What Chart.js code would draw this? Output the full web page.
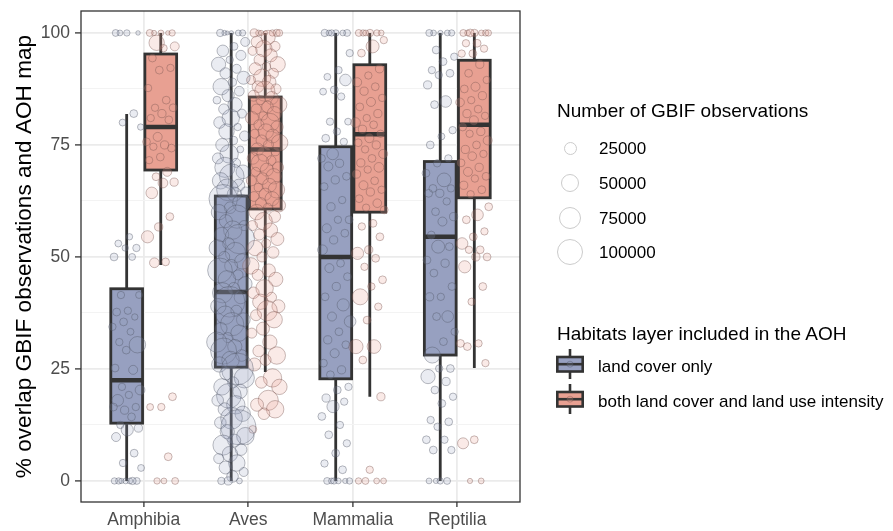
<!DOCTYPE html>
<html>
<head>
<meta charset="utf-8">
<script src="https://cdn.jsdelivr.net/npm/chart.js@4.4.1/dist/chart.umd.min.js"></script>
<style>
  html, body { margin: 0; padding: 0; background: #fff; }
  #wrap { position: relative; width: 893px; height: 531px; font-family: 'Liberation Sans', Arial, sans-serif; }
  #chart { position: absolute; left: 0; top: 0; }
  .lg { position: absolute; white-space: nowrap; color: #000; line-height: 1; transform: translateY(-50%); }
  .lg-title { font-size: 19px; }
  .lg-text { font-size: 17px; }
  .dot { position: absolute; border-radius: 50%; border: 1.3px solid #cbcbcb; box-sizing: border-box; background: #fff; }
  .key { position: absolute; }
</style>
</head>
<body>
<div id="wrap">
  <canvas id="chart" width="893" height="531"></canvas>
  <div id="legend"></div>
</div>
<script>
const categories = ['Amphibia', 'Aves', 'Mammalia', 'Reptilia'];
const seriesLabels = ['land cover only', 'both land cover and land use intensity'];
const sizeBreaks = [25000, 50000, 75000, 100000];
const yMajor = [0, 25, 50, 75, 100];

// box summaries - land cover only
const coverLower  = [0, 0, 0, 0];
const coverQ1     = [12.9, 25.4, 22.8, 28.1];
const coverMedian = [22.5, 42.2, 50.0, 54.5];
const coverQ3     = [42.9, 63.6, 74.6, 71.3];
const coverUpper  = [81.9, 100, 100, 100];

// box summaries - land cover and land use intensity
const bothLower  = [48.2, 24.3, 18.8, 25.2];
const bothQ1     = [69.4, 60.7, 60.0, 63.2];
const bothMedian = [79.0, 74.0, 77.4, 79.5];
const bothQ3     = [95.3, 85.7, 92.9, 93.9];
const bothUpper  = [100, 100, 100, 100];

// species: [% overlap, number of GBIF observations]
const amphibiaCover = [
  [100,5000],[100,3000],[100,6000],[100,7000],[82,9000],[80,7000],[79,6000],
  [54.5,6000],[53,7000],[52,8000],[52,6000],[50,9000],[50,7000],
  [41.5,8000],[41.5,7000],[38,8000],[37.7,9000],[36.6,6000],[35.5,9000],[34.4,8000],[33.3,7000],
  [31,8000],[30.4,40000],[29.2,9000],[25.2,9000],[24.8,12000],[21,8000],[20.3,14000],[19.2,8000],
  [18,20000],[16.5,8000],[15.8,10000],[16.5,9000],[14.3,9000],[12.5,8000],[11.8,10000],[11.4,22000],
  [9.8,12000],[6.2,9000],[4,8000],[2.9,7000],
  [0,5000],[0,6000],[0,7000],[0,5000],[0,6000],[0,8000],[0,4000]
];
const amphibiaBoth = [
  [100,4000],[100,6000],[100,5000],[100,7000],[100,3000],[97.8,35000],[97,12000],[96.6,8000],
  [94.4,9000],[92.2,8000],[91.7,9000],[87.7,8000],[85,9000],[83.3,8000],[83.3,9000],[82,10000],
  [81,8000],[80.6,9000],[76.8,12000],[75.7,9000],[75,10000],[74.6,8000],[74.3,9000],[72.3,9000],
  [71.6,8000],[69,12000],[67.9,9000],[66.7,10000],[66.5,14000],[64.3,20000],[59,9000],[56.7,10000],
  [54.5,22000],[48.9,9000],[48.7,14000],[18.8,9000],[16.5,8000],[16.5,7000],[5.4,9000],
  [0,6000],[0,7000],[0,5000]
];
const avesCover = [
  [100,4000],[100,6000],[100,3000],[100,8000],[100,5000],[100,2500],
  [98,12000],[97,9000],[96,20000],[95,15000],[94,8000],[93,30000],[92,12000],[91,18000],[90,25000],
  [89,10000],[88,40000],[87,14000],[86,22000],[85,9000],[84,30000],[83,16000],[82,12000],[81,45000],
  [80,20000],[79,8000],[78,35000],[77,15000],[76,10000],[75,25000],[74,7000],[73,50000],[72,18000],
  [71,12000],[70,60000],[69,28000],[68,90000],[67,40000],[66,22000],[65,70000],[64.5,15000],[64,30000],
  [63,120000],[62,45000],[61,20000],[60,35000],[59,80000],[58,25000],[57,15000],[56,50000],[55,30000],
  [54,130000],[53,20000],[52,40000],[51,60000],[50,18000],[49,35000],[48,25000],[47,90000],[46,15000],
  [45,45000],[44,30000],[43,20000],[42,60000],[41,25000],[40,140000],[39,35000],[38,18000],[37,50000],
  [36,28000],[35,80000],[34,22000],[33,40000],[32,15000],[31,60000],[30,30000],[29,100000],[28,20000],
  [27,45000],[26,35000],[25,150000],[24,25000],[23,60000],[22,18000],[21,40000],[20,30000],[19,90000],
  [18,20000],[17,50000],[16,25000],[15,35000],[14,70000],[13,20000],[12,180000],[11,30000],[10,45000],
  [9,25000],[8,60000],[7,20000],[6,35000],[5,15000],[4,40000],[3,25000],[2,12000],[1,20000],
  [0,8000],[0,5000],[0,10000]
];
const avesBoth = [
  [100,5000],[100,8000],[100,3000],[100,10000],[100,6000],[100,4000],[100,7000],
  [99,30000],[98,20000],[97,15000],[96.5,40000],[96,12000],[95,25000],[94,18000],[93,35000],[92.5,10000],
  [92,22000],[91,15000],[90,45000],[89.5,12000],[89,28000],[88,20000],[87.5,15000],[87,60000],[86,18000],
  [85.5,25000],[85,12000],[84,40000],[83.5,20000],[83,15000],[82,30000],[81.5,10000],[81,25000],[80,50000],
  [79.5,15000],[79,22000],[78,35000],[77.5,12000],[77,28000],[76,18000],[75.5,40000],[75,15000],[74,25000],
  [73.5,10000],[73,32000],[72,20000],[71.5,14000],[71,45000],[70,18000],[69.5,25000],[69,12000],[68,35000],
  [67.5,20000],[67,15000],[66,28000],[65.5,10000],[65,40000],[64,22000],[63.5,14000],[63,30000],[62,18000],
  [61.5,25000],[61,12000],[60,35000],[59,20000],[58,45000],[57,15000],[56,30000],[55,18000],[54,25000],
  [53,12000],[52,35000],[51,20000],[50,15000],[48,40000],[47,25000],[46,18000],[45,30000],[43,45000],
  [42,20000],[41,15000],[40,35000],[39,25000],[38,60000],[37,18000],[36,40000],[34,25000],[33,15000],
  [31,30000],[29,20000],[28,45000],[27,18000],[26,25000],[23,50000],[22,20000],[21,35000],[18,60000],
  [17,25000],[16,45000],[15,20000],[11.5,9000]
];
const mammaliaCover = [
  [100,5000],[100,7000],[100,6000],[100,8000],[100,5000],[100,6000],
  [95.5,8000],[91.7,8000],[90.2,7000],[89.5,20000],[87.3,9000],[86.9,7000],[85.8,8000],[80.2,8000],
  [80.2,7000],[78,8000],[76.5,9000],[75.7,8000],[73,20000],[72,9000],[70.9,10000],[70.2,12000],[68,9000],
  [67.2,10000],[65.7,9000],[62.7,8000],[61.2,10000],[58.3,9000],[58.3,8000],[56.4,12000],[55.3,9000],
  [53.8,10000],[51.6,14000],[48.6,9000],[47.5,12000],[45.6,9000],[43.4,10000],[41.1,9000],[39.3,22000],
  [36.7,12000],[35.6,20000],[33.3,9000],[31.5,10000],[30.4,9000],[28.5,12000],[26.3,9000],[24.8,10000],
  [23.7,9000],[21,8000],[20.3,9000],[18.5,10000],[17.7,8000],[16.6,22000],[14.4,9000],[12.5,8000],
  [10.3,9000],[8.4,8000],[6.2,9000],[3.9,8000],[2.5,9000],
  [0,5000],[0,6000],[0,5000],[0,7000],[0,4000],[0,6000]
];
const mammaliaBoth = [
  [100,6000],[100,5000],[100,8000],[100,7000],[100,6000],[100,5000],[98.4,8000],[97,25000],[95.5,9000],
  [92,10000],[90.5,8000],[89,12000],[88,9000],[87,10000],[85.5,8000],[84.6,12000],[83.5,9000],[82,10000],
  [81,8000],[80,14000],[79.5,9000],[78.5,10000],[77.5,8000],[76.5,12000],[75.5,9000],[75,10000],[74,8000],
  [73,12000],[72,9000],[71,10000],[70,14000],[69.5,8000],[68.5,10000],[67,9000],[66,12000],[65,8000],
  [64.5,10000],[63,9000],[62,11000],[61,8000],[60.5,9000],[57.5,9000],[56.8,8000],[54.5,9000],[51.6,10000],
  [50.8,22000],[49.7,9000],[47.8,8000],[44.9,9000],[43.4,8000],[41.1,38000],[38.9,8000],[35.9,9000],
  [30,30000],[30,28000],[27,9000],[18.8,10000],[2.5,8000],[0,6000],[0,5000],[0,7000],[0,5000]
];
const reptiliaCover = [
  [100,5000],[100,6000],[100,4000],[100,7000],[100,5000],
  [96.2,9000],[94.7,8000],[93.6,9000],[91.7,8000],[91,9000],[90.6,8000],[88.4,10000],[84.7,20000],[84,9000],
  [78.3,8000],[76.9,7000],[75,9000],[72,8000],[70.9,8000],[68.7,9000],[67.2,28000],[65.3,9000],[65.3,8000],
  [64.2,10000],[64.2,9000],[62.4,8000],[60.1,9000],[59,10000],[57.9,12000],[54.9,9000],[52.3,9000],
  [52.3,25000],[49.3,9000],[48.6,10000],[46.4,9000],[43.4,9000],[41.1,8000],[41.1,10000],[36.7,20000],
  [36.7,9000],[33.3,8000],[31.1,9000],[28.1,38000],[25.1,9000],[25.1,8000],[23.3,30000],[22.2,10000],
  [20.3,9000],[18.8,8000],[17.3,9000],[13.6,8000],[13.2,9000],[12.1,8000],[9.2,9000],[9.2,8000],
  [6.9,9000],[6.9,8000],[0,6000],[0,5000],[0,7000],[0,4000]
];
const reptiliaBoth = [
  [100,5000],[100,6000],[100,8000],[100,7000],[100,5000],[100,9000],[100,6000],[97.7,9000],[97.7,8000],
  [96.5,8000],[95.4,9000],[95.4,8000],[93,10000],[91,9000],[89.5,8000],[88,12000],[87.5,9000],[86,10000],
  [85,8000],[84.5,11000],[83,9000],[82,10000],[81.5,8000],[80.5,12000],[79,9000],[78,10000],[77.5,8000],
  [76,12000],[75,9000],[74,10000],[73,8000],[72.5,11000],[71,9000],[70,10000],[69,12000],[68,9000],
  [67.5,8000],[66,10000],[65,9000],[64,8000],[61.2,9000],[59.4,20000],[58.3,9000],[55.7,8000],[54.5,9000],
  [53,20000],[51.6,9000],[51.6,8000],[50,9000],[50,10000],[47.8,22000],[43.4,9000],[40,8000],[30.7,9000],
  [30.7,8000],[30,9000],[26.3,8000],[9.2,9000],[8.4,18000],[0,5000],[0,4000]
];

const coverPoints = [amphibiaCover, avesCover, mammaliaCover, reptiliaCover];
const bothPoints = [amphibiaBoth, avesBoth, mammaliaBoth, reptiliaBoth];
const boxStats = [
  { lower: coverLower, q1: coverQ1, median: coverMedian, q3: coverQ3, upper: coverUpper },
  { lower: bothLower, q1: bothQ1, median: bothMedian, q3: bothQ3, upper: bothUpper }
];

// look
const FONT = "'Liberation Sans', Arial, sans-serif";
const groupOffset = [-0.163, 0.163];
const boxHalf = 0.152;
const jitterHalf = 0.14;
const boxFill = ['#97a0c0', '#e8a092'];
const pointFill = ['rgba(150,160,192,0.2)', 'rgba(232,160,146,0.22)'];
const pointStroke = ['rgba(80,84,100,0.4)', 'rgba(120,85,80,0.4)'];

function radiusFor(n) {
  return Math.max(1.5, 6.5 * Math.sqrt(n / 25000));
}

// even horizontal spread for the jitter
function spread(i) {
  return (((i * 0.618034 + 0.27) % 1) - 0.5) * 2 * jitterHalf;
}

function toXY(groups, g) {
  const out = [];
  groups.forEach((pts, c) => {
    pts.forEach(([v, n], i) => out.push({ x: c + 1 + groupOffset[g] + spread(i), y: v, n: n }));
  });
  return out;
}

const boxPlugin = {
  id: 'boxes',
  beforeDatasetsDraw(chart) {
    const { ctx, scales: { x, y } } = chart;
    ctx.save();
    ctx.strokeStyle = '#333333';
    boxStats.forEach((s, g) => {
      categories.forEach((_, c) => {
        const mid = c + 1 + groupOffset[g];
        const cx = x.getPixelForValue(mid);
        const l = x.getPixelForValue(mid - boxHalf);
        const r = x.getPixelForValue(mid + boxHalf);
        const y1 = y.getPixelForValue(s.q1[c]);
        const y3 = y.getPixelForValue(s.q3[c]);
        ctx.lineWidth = 2.8;
        ctx.beginPath();
        ctx.moveTo(cx, y.getPixelForValue(s.upper[c]));
        ctx.lineTo(cx, y3);
        ctx.moveTo(cx, y1);
        ctx.lineTo(cx, y.getPixelForValue(s.lower[c]));
        ctx.stroke();
        ctx.fillStyle = boxFill[g];
        ctx.fillRect(l, y3, r - l, y1 - y3);
        ctx.strokeRect(l, y3, r - l, y1 - y3);
        ctx.lineWidth = 4.5;
        const ym = y.getPixelForValue(s.median[c]);
        ctx.beginPath();
        ctx.moveTo(l, ym);
        ctx.lineTo(r, ym);
        ctx.stroke();
      });
    });
    ctx.restore();
  },
  afterDatasetsDraw(chart) {
    const { ctx, chartArea: a } = chart;
    ctx.save();
    ctx.strokeStyle = '#333333';
    ctx.lineWidth = 1.3;
    ctx.strokeRect(a.left, a.top, a.right - a.left, a.bottom - a.top);
    ctx.restore();
  }
};

const isMajor = v => v % 25 === 0;

new Chart(document.getElementById('chart'), {
  type: 'scatter',
  data: {
    datasets: [0, 1].map(g => ({
      label: seriesLabels[g],
      data: toXY(g === 0 ? coverPoints : bothPoints, g),
      backgroundColor: pointFill[g],
      borderColor: pointStroke[g],
      borderWidth: 1,
      pointRadius: ctx => radiusFor(ctx.raw.n),
      pointHoverRadius: ctx => radiusFor(ctx.raw.n)
    }))
  },
  options: {
    responsive: false,
    animation: false,
    layout: { autoPadding: false, padding: { top: 11, right: 373, bottom: 0, left: 0 } },
    plugins: { legend: { display: false }, tooltip: { enabled: false } },
    scales: {
      x: {
        type: 'linear',
        min: 0.4,
        max: 4.6,
        afterBuildTicks: s => { s.ticks = [1, 2, 3, 4].map(v => ({ value: v })); },
        afterFit: s => { s.height = 29; s.paddingLeft = 0; s.paddingRight = 0; },
        border: { display: false },
        grid: { color: '#ebebeb', lineWidth: 1.8, tickLength: 5, tickColor: '#333333', tickWidth: 1.3 },
        ticks: {
          autoSkip: false, maxRotation: 0, padding: 3, color: '#4d4d4d',
          font: { family: FONT, size: 17.5 },
          callback: v => categories[Math.round(v) - 1]
        }
      },
      y: {
        min: -4.7,
        max: 104.9,
        afterBuildTicks: s => { s.ticks = [0, 12.5, 25, 37.5, 50, 62.5, 75, 87.5, 100].map(v => ({ value: v })); },
        afterFit: s => { s.width = 81; s.paddingTop = 0; s.paddingBottom = 0; },
        border: { display: false },
        grid: {
          color: c => isMajor(c.tick.value) ? '#ebebeb' : '#f3f3f3',
          lineWidth: c => isMajor(c.tick.value) ? 1.8 : 1,
          tickLength: 6,
          tickColor: c => isMajor(c.tick.value) ? '#333333' : 'rgba(0,0,0,0)',
          tickWidth: 1.3
        },
        ticks: {
          autoSkip: false, padding: 5, color: '#4d4d4d',
          font: { family: FONT, size: 17.5 },
          callback: v => yMajor.includes(v) ? String(v) : ''
        },
        title: {
          display: true,
          text: '% overlap GBIF observations and AOH map',
          color: '#000',
          font: { family: FONT, size: 22.6 },
          padding: { top: 11, bottom: 0 }
        }
      }
    }
  },
  plugins: [boxPlugin]
});

// legend
const legend = document.getElementById('legend');
function addText(cls, text, left, cy) {
  const d = document.createElement('div');
  d.className = 'lg ' + cls;
  d.textContent = text;
  d.style.left = left + 'px';
  d.style.top = cy + 'px';
  legend.appendChild(d);
}
addText('lg-title', 'Number of GBIF observations', 557, 110);
const sizeRows = [148, 183, 218, 252];
sizeBreaks.forEach((b, i) => {
  const r = radiusFor(b);
  const d = document.createElement('div');
  d.className = 'dot';
  d.style.width = d.style.height = (2 * r) + 'px';
  d.style.left = (570 - r) + 'px';
  d.style.top = (sizeRows[i] - r) + 'px';
  legend.appendChild(d);
  addText('lg-text', String(b), 599, sizeRows[i]);
});
addText('lg-title', 'Habitats layer included in the AOH', 557, 333);
const keyRows = [364, 399];
seriesLabels.forEach((lab, g) => {
  const top = keyRows[g] - 15;
  const svg = `<svg width="28" height="30" viewBox="0 0 28 30" xmlns="http://www.w3.org/2000/svg">
    <line x1="14" y1="0" x2="14" y2="30" stroke="#333" stroke-width="2.6"/>
    <rect x="1.3" y="8" width="25.4" height="14.5" fill="${boxFill[g]}" stroke="#333" stroke-width="2.6"/>
    <line x1="1.3" y1="15.2" x2="26.7" y2="15.2" stroke="#333" stroke-width="2.6"/>
    <circle cx="14" cy="15.2" r="3" fill="${pointFill[g]}" stroke="${pointStroke[g]}" stroke-width="1"/>
  </svg>`;
  const k = document.createElement('div');
  k.className = 'key';
  k.style.left = '556px';
  k.style.top = top + 'px';
  k.innerHTML = svg;
  legend.appendChild(k);
  addText('lg-text', lab, 598, keyRows[g] + 2);
});
</script>
</body>
</html>
